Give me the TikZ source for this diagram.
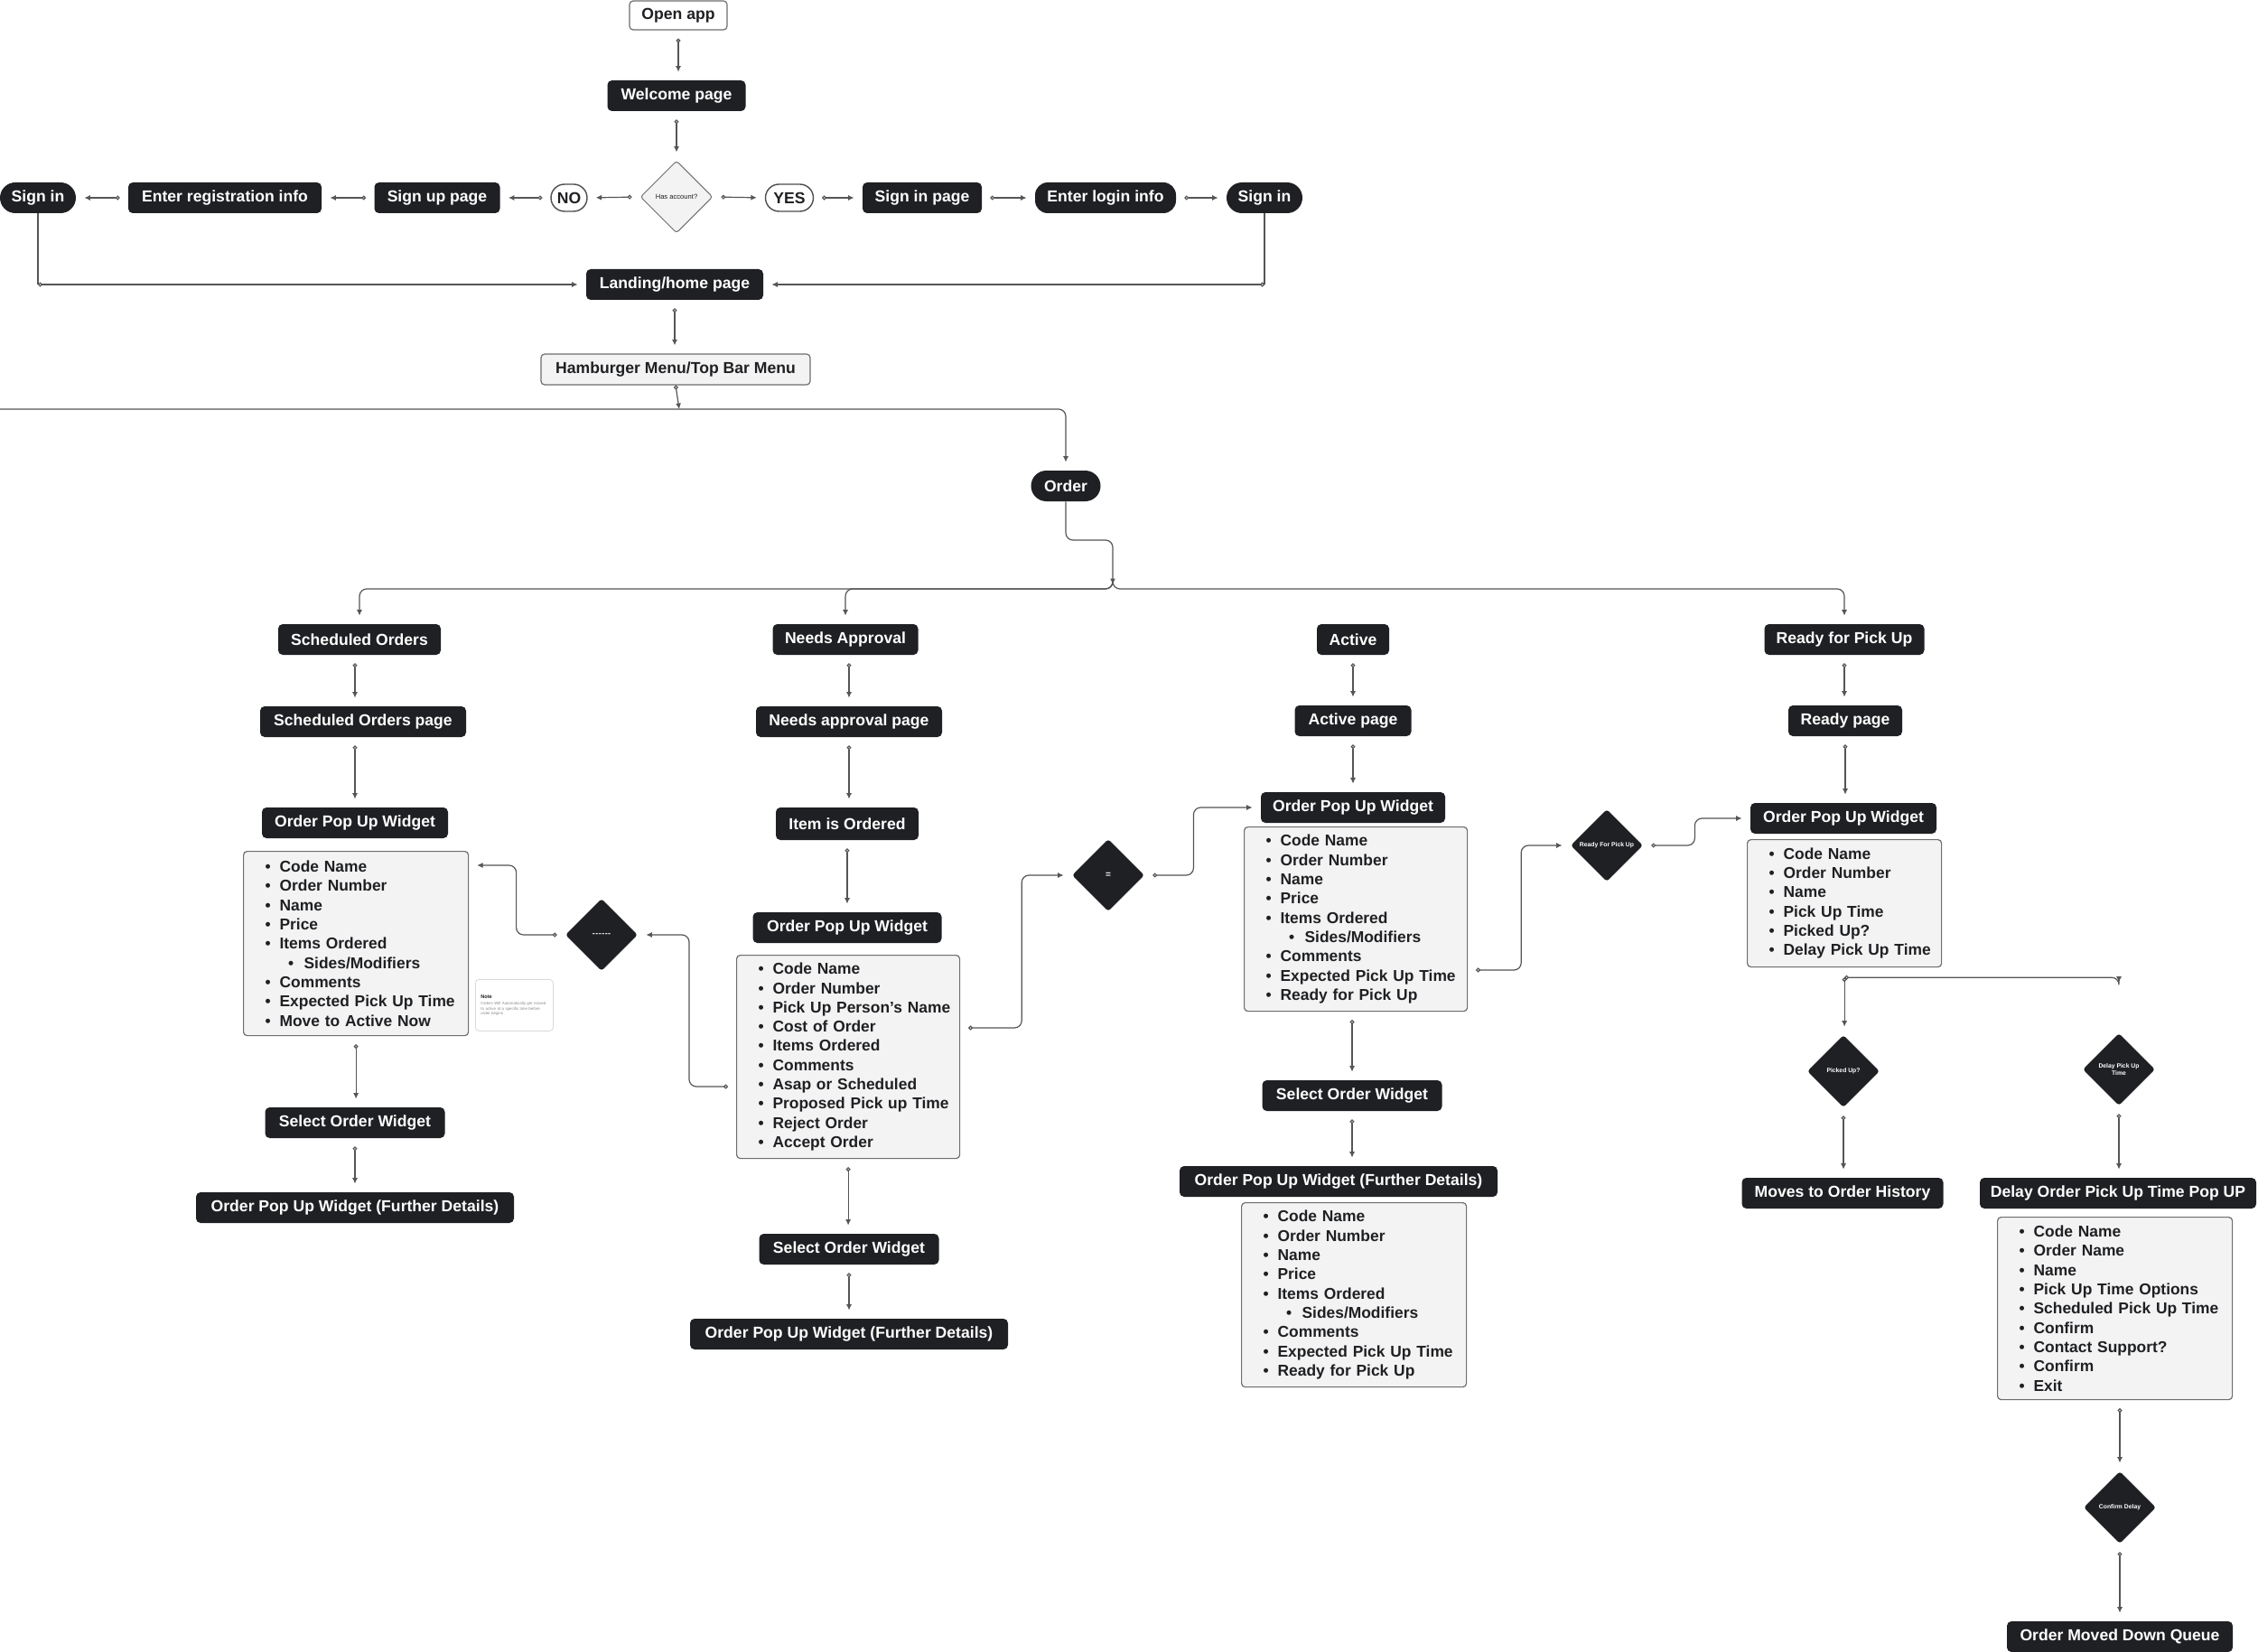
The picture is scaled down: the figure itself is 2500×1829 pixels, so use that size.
\documentclass[tikz,border=0pt]{standalone}
\usepackage{fontspec}
\setmainfont{Liberation Sans}
\usetikzlibrary{shapes.geometric,arrows.meta,calc}
\definecolor{dk}{HTML}{1F2023}
\definecolor{lt}{HTML}{F3F3F3}
\definecolor{bd}{HTML}{6E6E6E}
\definecolor{ln}{HTML}{555555}
\newcommand\li[1]{\mbox{\makebox[8pt][l]{\textbullet}#1}}
\newcommand\ls[1]{\mbox{\hspace*{12.7pt}\makebox[8.8pt][l]{\textbullet}#1}}
\tikzset{
  lbl/.style={font=\bfseries\fontsize{8.8}{10}\selectfont},
  dark/.style={lbl, fill=dk, text=white, rounded corners=2.5pt, minimum height=17pt, inner sep=0pt},
  pill/.style={dark, rounded corners=8.5pt},
  lightbox/.style={lbl, fill=lt, draw=bd, line width=0.6pt, text=dk, rounded corners=2pt, minimum height=17pt, inner sep=0pt},
  whitebox/.style={lightbox, fill=white, minimum height=16pt},
  yn/.style={lbl, fill=white, draw=dk!80, line width=0.7pt, text=dk, rounded corners=7.5pt, minimum height=15pt, inner sep=0pt},
  lst/.style={font=\bfseries\fontsize{8.7}{10.65}\selectfont, fill=lt, draw=bd, line width=0.6pt, text=dk, rounded corners=2pt, anchor=north west, align=left, inner xsep=12pt, inner ysep=0pt},
  dmd/.style={diamond, aspect=1, fill=dk, text=white, minimum size=40pt, inner sep=0pt, rounded corners=1.5pt, align=center, font=\bfseries\fontsize{3.4}{4.2}\selectfont},
  ldmd/.style={dmd, fill=lt, draw=bd, line width=0.5pt, text=dk, font=\fontsize{3.8}{4.6}\selectfont},
  base/.style={draw=ln, line width=0.6pt, rounded corners=4pt},
  conn/.style={base, {Circle[open,length=2.4pt,width=2.4pt]}-{Latex[length=3.2pt,width=3pt]}, shorten <=4.5pt, shorten >=4.5pt},
  arr/.style={base, -{Latex[length=3.2pt,width=3pt]}, shorten >=4.5pt},
}
\begin{document}
\begin{tikzpicture}[x=0.5pt,y=-0.5pt]
\useasboundingbox (0,0) rectangle (2500,1829);
\fill[white] (0,0) rectangle (2500,1829);

% ---------- top ----------
\node[whitebox, minimum width=54pt] (open) at (751,17) {Open app};
\node[dark, minimum width=76.5pt] (welcome) at (749,106) {Welcome page};
\node[ldmd] (hasacc) at (749,218) {Has account?};
\node[yn, minimum width=20pt] (no) at (630,219) {NO};
\node[yn, minimum width=26.5pt] (yes) at (874,219) {YES};
\node[dark, minimum width=69.5pt] (signup) at (484,219) {Sign up page};
\node[dark, minimum width=107pt] (enterreg) at (249,219) {Enter registration info};
\node[pill, minimum width=42pt] (signinL) at (42,219) {Sign in};
\node[dark, minimum width=66pt] (signinpage) at (1021,219) {Sign in page};
\node[dark, rounded corners=7pt, minimum width=78pt] (enterlogin) at (1224,219) {Enter login info};
\node[pill, minimum width=42pt] (signinR) at (1400,219) {Sign in};
\node[dark, minimum width=98pt] (landing) at (747,315) {Landing/home page};
\node[lightbox, minimum width=149pt] (hamb) at (748,409) {Hamburger Menu/Top Bar Menu};
\node[pill, minimum width=38.5pt] (order) at (1180,538) {Order};

\draw[conn] (open.south) -- (open.south |- welcome.north);
\draw[conn] (welcome.south) -- (welcome.south |- hasacc.north);
\draw[conn] (hasacc.west) -- (no.east);
\draw[conn] (no.west) -- (signup.east);
\draw[conn] (signup.west) -- (enterreg.east);
\draw[conn] (enterreg.west) -- (signinL.east);
\draw[conn] (hasacc.east) -- (yes.west);
\draw[conn] (yes.east) -- (signinpage.west);
\draw[conn] (signinpage.east) -- (enterlogin.west);
\draw[conn] (enterlogin.east) -- (signinR.west);

\coordinate (cL) at (signinL.south |- landing.west);
\coordinate (cR) at (signinR.south |- landing.east);
\draw[base] (signinL.south) -- (cL);
\draw[conn, shorten <=0pt] (cL) -- (landing.west);
\draw[base] (signinR.south) -- (cR);
\draw[conn, shorten <=0pt] (cR) -- (landing.east);
\draw[conn] (landing.south) -- (landing.south |- hamb.north);

\coordinate (busL) at (0,453);
\coordinate (busM) at (752,453);
\draw[conn, shorten <=0pt, shorten >=0pt] (hamb.south) -- (busM);
\draw[arr] (busL) -| (order.north);

% ---------- order bus ----------
\coordinate (j) at (1232,652);
\draw[arr, shorten >=0pt] (order.south) |- ($(j)+(0,-54)$) -- ($(j)+(0,-5)$);

% ---------- columns row 1/2 ----------
\node[dark, minimum width=90pt] (sched) at (398,708) {Scheduled Orders};
\node[dark, minimum width=80.5pt] (needs) at (936,708) {Needs Approval};
\node[dark, minimum width=40pt] (active) at (1498,708) {Active};
\node[dark, minimum width=88.5pt] (ready) at (2042,708) {Ready for Pick Up};

\draw[arr] ($(j)+(0,-8)$) -- (j) -| (sched.north);
\draw[arr] ($(j)+(0,-8)$) -- (j) -| (needs.north);
\draw[arr] ($(j)+(0,-8)$) -- (j) -| (ready.north);

\node[dark, minimum width=114pt] (schedpage) at (402,799) {Scheduled Orders page};
\node[dark, minimum width=103pt] (needspage) at (940,799) {Needs approval page};
\node[dark, minimum width=64.5pt] (activepage) at (1498,798) {Active page};
\node[dark, minimum width=63pt] (readypage) at (2043,798) {Ready page};

% ---------- scheduled column ----------
\node[dark, minimum width=103pt] (sopw) at (393,911) {Order Pop Up Widget};
\node[lst, minimum width=124.5pt, minimum height=102pt, text width=100.5pt] (slist) at (269,942) {\li{Code Name}\\\li{Order Number}\\\li{Name}\\\li{Price}\\\li{Items Ordered}\\\ls{Sides/Modifiers}\\\li{Comments}\\\li{Expected Pick Up Time}\\\li{Move to Active Now}};
\node[anchor=north west, fill=white, draw=black!15, line width=0.4pt, rounded corners=2pt, minimum width=43pt, minimum height=28.5pt, text width=37pt, inner xsep=3pt, inner ysep=3.5pt, align=left, font=\fontsize{2.2}{2.7}\selectfont] (note) at (526,1084) {{\bfseries\fontsize{2.8}{3.4}\selectfont\color{dk}Note}\\[1.2pt]\color{black!45}Orders Will Automatically get moved to active at a specific time before order begins};
\node[dmd, font=\bfseries\fontsize{4.5}{5}\selectfont] (sdiam) at (666,1035) {-\kern0.25pt-\kern0.25pt-\kern0.25pt-\kern0.25pt-\kern0.25pt-};
\node[dark, minimum width=99.5pt] (ssel) at (393,1243) {Select Order Widget};
\node[dark, minimum width=176pt] (sfd) at (393,1337) {Order Pop Up Widget (Further Details)};

\draw[conn] (sched.south -| sopw) -- (schedpage.north -| sopw);
\draw[conn] (schedpage.south -| sopw) -- (sopw.north);
\draw[conn] (slist.south) -- (slist.south |- ssel.north);
\draw[conn] (ssel.south) -- (sfd.north);
\coordinate (slistR) at ($(slist.north east)+(0,16)$);
\draw[conn] (sdiam.west) -- ++(-54,0) |- (slistR);

% ---------- needs approval column ----------
\node[dark, minimum width=79pt, minimum height=18pt] (item) at (938,912) {Item is Ordered};
\node[dark, minimum width=104.5pt] (nopw) at (938,1027) {Order Pop Up Widget};
\node[lst, minimum width=123.5pt, minimum height=112.5pt, text width=99.5pt] (nlist) at (815,1057) {\li{Code Name}\\\li{Order Number}\\\li{Pick Up Person's Name}\\\li{Cost of Order}\\\li{Items Ordered}\\\li{Comments}\\\li{Asap or Scheduled}\\\li{Proposed Pick up Time}\\\li{Reject Order}\\\li{Accept Order}};
\node[dark, minimum width=99.5pt] (nsel) at (940,1383) {Select Order Widget};
\node[dark, minimum width=176pt] (nfd) at (940,1477) {Order Pop Up Widget (Further Details)};
\node[dmd, font=\bfseries\fontsize{5}{6}\selectfont] (ndiam) at (1227,969) {=};

\draw[conn] (needs.south -| needspage) -- (needspage.north);
\draw[conn] (needspage.south) -- (needspage.south |- item.north);
\draw[conn] (item.south) -- (item.south |- nopw.north);
\draw[conn] (nlist.south) -- (nlist.south |- nsel.north);
\draw[conn] (nsel.south) -- (nfd.north);
\coordinate (nlistL) at ($(nlist.north west)+(0,146)$);
\coordinate (nlistR) at ($(nlist.north east)+(0,81)$);
\draw[conn] (nlistL) -- ++(-52,0) |- (sdiam.east);
\draw[conn] (nlistR) -- ++(68,0) |- (ndiam.west);

% ---------- active column ----------
\node[dark, minimum width=102pt] (aopw) at (1498,894) {Order Pop Up Widget};
\node[lst, minimum width=123.5pt, minimum height=102pt, text width=99.5pt] (alist) at (1377,915) {\li{Code Name}\\\li{Order Number}\\\li{Name}\\\li{Price}\\\li{Items Ordered}\\\ls{Sides/Modifiers}\\\li{Comments}\\\li{Expected Pick Up Time}\\\li{Ready for Pick Up}};
\node[dark, minimum width=99.5pt] (asel) at (1497,1213) {Select Order Widget};
\node[dark, minimum width=176pt] (afd) at (1482,1308) {Order Pop Up Widget (Further Details)};
\node[lst, minimum width=124.5pt, minimum height=102pt, text width=100.5pt] (alist2) at (1374,1331) {\li{Code Name}\\\li{Order Number}\\\li{Name}\\\li{Price}\\\li{Items Ordered}\\\ls{Sides/Modifiers}\\\li{Comments}\\\li{Expected Pick Up Time}\\\li{Ready for Pick Up}};
\node[dmd] (adiam) at (1779,936) {Ready For Pick Up};

\draw[conn] (active.south) -- (active.south |- activepage.north);
\draw[conn] (activepage.south) -- (activepage.south |- aopw.north);
\draw[conn] (asel.north |- alist.south) -- (asel.north);
\draw[conn] (asel.south) -- (asel.south |- afd.north);
\draw[conn] (ndiam.east) -- ++(54,0) |- (aopw.west);
\coordinate (alistR) at ($(alist.north east)+(0,159)$);
\draw[conn] (alistR) -- ++(59,0) |- (adiam.west);

% ---------- ready column ----------
\node[dark, minimum width=103pt] (ropw) at (2041,906) {Order Pop Up Widget};
\node[lst, minimum width=107.5pt, minimum height=70.5pt, text width=83.5pt] (rlist) at (1934,929) {\li{Code Name}\\\li{Order Number}\\\li{Name}\\\li{Pick Up Time}\\\li{Picked Up?}\\\li{Delay Pick Up Time}};
\node[dmd] (pdiam) at (2041,1186) {Picked Up?};
\node[dmd] (ddiam) at (2346,1184) {Delay Pick Up\\Time};
\node[dark, minimum width=111.5pt] (hist) at (2040,1321) {Moves to Order History};
\node[dark, minimum width=153pt] (dpop) at (2345,1321) {Delay Order Pick Up Time Pop UP};
\node[lst, minimum width=130pt, minimum height=101pt, text width=106pt] (dlist) at (2211,1347) {\li{Code Name}\\\li{Order Name}\\\li{Name}\\\li{Pick Up Time Options}\\\li{Scheduled Pick Up Time}\\\li{Confirm}\\\li{Contact Support?}\\\li{Confirm}\\\li{Exit}};
\node[dmd] (cdiam) at (2347,1669) {Confirm Delay};
\node[dark, minimum width=125pt] (queue) at (2347,1812) {Order Moved Down Queue};

\draw[conn] (ready.south) -- (ready.south |- readypage.north);
\draw[conn] (readypage.south) -- (readypage.south |- ropw.north);
\draw[conn] (adiam.east) -- ++(57,0) |- (ropw.west);
\coordinate (rj) at ($(rlist.south)+(0,11)$);
\draw[conn, shorten <=0pt] (rj) -- (rj |- pdiam.north);
\draw[conn, shorten <=0pt, shorten >=28pt] (rj) -| (ddiam.north);
\draw[conn] (pdiam.south) -- (pdiam.south |- hist.north);
\draw[conn] (ddiam.south) -- (ddiam.south |- dpop.north);
\draw[conn] (cdiam.north |- dlist.south) -- (cdiam.north);
\draw[conn] (cdiam.south) -- (cdiam.south |- queue.north);
\end{tikzpicture}
\end{document}
